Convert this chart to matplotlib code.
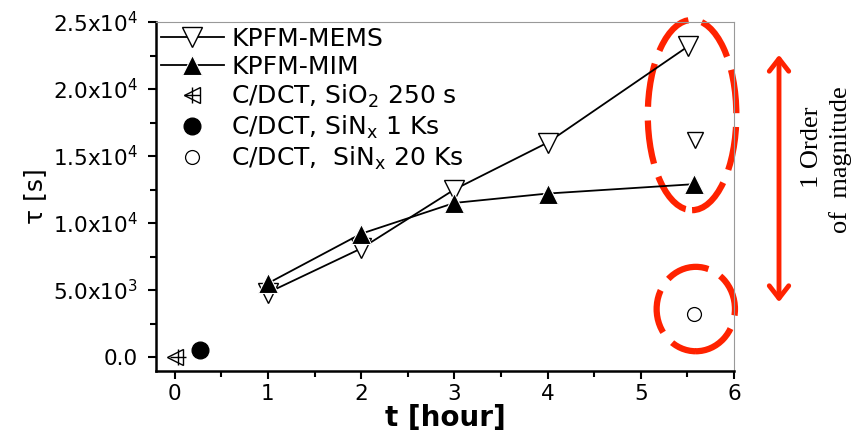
#!/usr/bin/env python
import matplotlib
matplotlib.use("Agg")
import matplotlib.pyplot as plt
from matplotlib.patches import Ellipse, FancyArrowPatch
from matplotlib.legend_handler import HandlerTuple
from matplotlib.ticker import FixedLocator, MultipleLocator

plt.rcParams['font.family'] = ['DejaVu Sans']

# data
mems_t = [1, 2, 3, 4, 5.51]
mems_tau = [4800, 8100, 12500, 16000, 23200]
mems_extra_t = [5.58]
mems_extra_tau = [16200]
mim_t = [1, 2, 3, 4, 5.57]
mim_tau = [5500, 9200, 11500, 12200, 12900]
sio2_t, sio2_tau = [0.0], [0.0]
sin1_t, sin1_tau = [0.27], [550]
sin20_t, sin20_tau = [5.57], [3200]

yticks = [0, 5000, 10000, 15000, 20000, 25000]
ylabels = ["0.0", "5.0x10$^3$", "1.0x10$^4$", "1.5x10$^4$", "2.0x10$^4$", "2.5x10$^4$"]

fig = plt.figure(figsize=(8.55, 4.32), dpi=100)
ax = fig.add_axes([0.1825, 0.141, 0.676, 0.808])

l1, = ax.plot(mems_t, mems_tau, '-', color='black', lw=1.3, marker='v', ms=14,
              mfc='white', mec='black', mew=1.0)
ax.plot(mems_extra_t, mems_extra_tau, 'v', ms=12, mfc='white', mec='black', mew=1.0)
l2, = ax.plot(mim_t, mim_tau, '-', color='black', lw=1.3, marker='^', ms=14,
              mfc='black', mec='white', mew=0.8)
s1, = ax.plot(sio2_t, sio2_tau, '<', ms=12, mfc='white', mec='black', mew=1.0)
s1b, = ax.plot([t + 0.04 for t in sio2_t], sio2_tau, '+', ms=11, color='black', mew=1.0)
s2, = ax.plot(sin1_t, sin1_tau, 'o', ms=12, mfc='black', mec='black')
s3, = ax.plot(sin20_t, sin20_tau, 'o', ms=10, mfc='white', mec='black', mew=0.9)

ax.legend([l1, l2, (s1, s1b), s2, s3],
          ['KPFM-MEMS', 'KPFM-MIM', r'C/DCT, SiO$_2$ 250 s',
           r'C/DCT, SiN$_\mathrm{x}$ 1 Ks', r'C/DCT,  SiN$_\mathrm{x}$ 20 Ks'],
          handler_map={tuple: HandlerTuple(ndivide=1, pad=0)},
          loc='upper left', frameon=False, fontsize=18, handlelength=2.5,
          handletextpad=0.3, labelspacing=0.15, borderaxespad=0.0,
          borderpad=0.2, bbox_to_anchor=(0.0, 1.0))

ax.set_xlim(-0.2, 6)
ax.set_ylim(-1050, 25000)
ax.xaxis.set_major_locator(MultipleLocator(1))
ax.xaxis.set_minor_locator(MultipleLocator(0.5))
ax.yaxis.set_major_locator(FixedLocator(yticks))
ax.set_yticklabels(ylabels)
ax.yaxis.set_minor_locator(MultipleLocator(2500))
ax.tick_params(which='both', direction='out', top=False, right=False, labelsize=15.5)
ax.tick_params(which='major', length=6, width=1.5)
ax.tick_params(axis='y', which='major', pad=7)
ax.tick_params(which='minor', length=4, width=1.5)
for side in ['left', 'bottom']:
    ax.spines[side].set_linewidth(1.8)
for side in ['top', 'right']:
    ax.spines[side].set_color('#999999')
    ax.spines[side].set_linewidth(0.8)

ax.set_xlabel('t [hour]', fontsize=20, fontweight='bold', labelpad=0)
ax.set_ylabel('τ [s]', fontsize=18, labelpad=4)

# red dashed highlights
red = '#ff2200'
ax.add_patch(Ellipse((5.55, 18060), 0.95, 14200, fill=False, ec=red, lw=4.5,
                     ls=(0, (7, 2.2)), clip_on=False))
ax.add_patch(Ellipse((5.59, 3580), 0.84, 6300, fill=False, ec=red, lw=4.5,
                     ls=(0, (7, 2.2)), clip_on=False))

fig.patches.append(FancyArrowPatch(
    (779 / 855, 1 - 52 / 432), (779 / 855, 1 - 305 / 432), transform=fig.transFigure,
    arrowstyle='<->,head_length=9,head_width=7', color=red, lw=3.5,
    mutation_scale=1))
fig.text(812 / 855, 1 - 147 / 432, '1 Order', rotation=90, ha='center', va='center',
         fontsize=19, family='Liberation Serif')
fig.text(841 / 855, 1 - 160 / 432, 'of  magnitude', rotation=90, ha='center',
         va='center', fontsize=19, family='Liberation Serif')

fig.savefig('out.png', dpi=100)
